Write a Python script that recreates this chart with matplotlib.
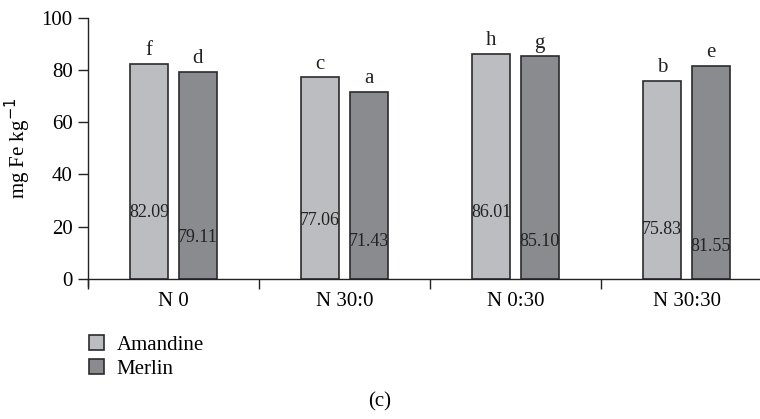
import numpy as np
import matplotlib.pyplot as plt
from matplotlib.patches import Patch

plt.rcParams['font.family'] = ['Liberation Serif', 'DejaVu Serif']

# data
groups = ["N 0", "N 30:0", "N 0:30", "N 30:30"]
amandine = [82.09, 77.06, 86.01, 75.83]
merlin = [79.11, 71.43, 85.10, 81.55]
letters_am = ["f", "c", "h", "b"]
letters_me = ["d", "a", "g", "e"]
# height where the value text sits inside each bar
label_y_am = [25.6, 22.4, 25.3, 18.8]
label_y_me = [15.7, 14.2, 14.2, 12.3]

c_am = "#bcbdc0"
c_me = "#8a8b8e"
edge = "#2b2b2b"
fs = 15

fig = plt.figure(figsize=(7.6, 4.19), dpi=100)
ax = fig.add_axes([88/760, 140/419, 1 - 88/760, (279 - 17.5)/419])

x = np.arange(len(groups)) + 0.5
w = 0.225
off = 0.142

ax.bar(x - off, amandine, w, color=c_am, edgecolor=edge, linewidth=1.2)
ax.bar(x + off, merlin, w, color=c_me, edgecolor=edge, linewidth=1.2)

for i in range(len(groups)):
    ax.text(x[i] - off, amandine[i] + 1.5, letters_am[i], ha='center', va='bottom', fontsize=fs, color="#222")
    ax.text(x[i] + off, merlin[i] + 1.5, letters_me[i], ha='center', va='bottom', fontsize=fs, color="#222")
    ax.text(x[i] - off, label_y_am[i], f"{amandine[i]:.2f}", ha='center', va='center', fontsize=13, color="#222")
    ax.text(x[i] + off, label_y_me[i], f"{merlin[i]:.2f}", ha='center', va='center', fontsize=13, color="#222")

ax.set_ylim(0, 100)
ax.set_xlim(0, (760 - 88) / 171)
ax.set_yticks(range(0, 101, 20))
ax.set_xticks(range(len(groups)))
ax.set_xticklabels([])
ax.set_xticks(x, minor=True)
ax.set_xticklabels(groups, minor=True, fontsize=fs)
ax.tick_params(axis='x', which='minor', length=0, pad=9)
ax.tick_params(axis='x', which='major', length=7, width=1, color="#222", direction='out')
ax.tick_params(axis='y', length=7, width=1, color="#222", labelsize=fs, direction='out', pad=4)
ax.set_ylabel("mg Fe kg$^{-1}$", fontsize=fs, labelpad=6)

for s in ['top', 'right']:
    ax.spines[s].set_visible(False)
for s in ['left', 'bottom']:
    ax.spines[s].set_color("#222")
    ax.spines[s].set_linewidth(1)
ax.spines['left'].set_bounds(-2.7, 100)

handles = [Patch(facecolor=c_am, edgecolor=edge, linewidth=1.2, label="Amandine"),
           Patch(facecolor=c_me, edgecolor=edge, linewidth=1.2, label="Merlin")]
fig.legend(handles=handles, loc='upper left', bbox_to_anchor=(72/760, 1 - 318/419),
           frameon=False, fontsize=fs, handlelength=0.75, handleheight=0.75,
           handletextpad=0.6, labelspacing=0.2, borderpad=0.3)

fig.text(0.5, 1 - 402/419, "(c)", ha='center', va='center', fontsize=fs)

fig.savefig("out.png", dpi=100)
